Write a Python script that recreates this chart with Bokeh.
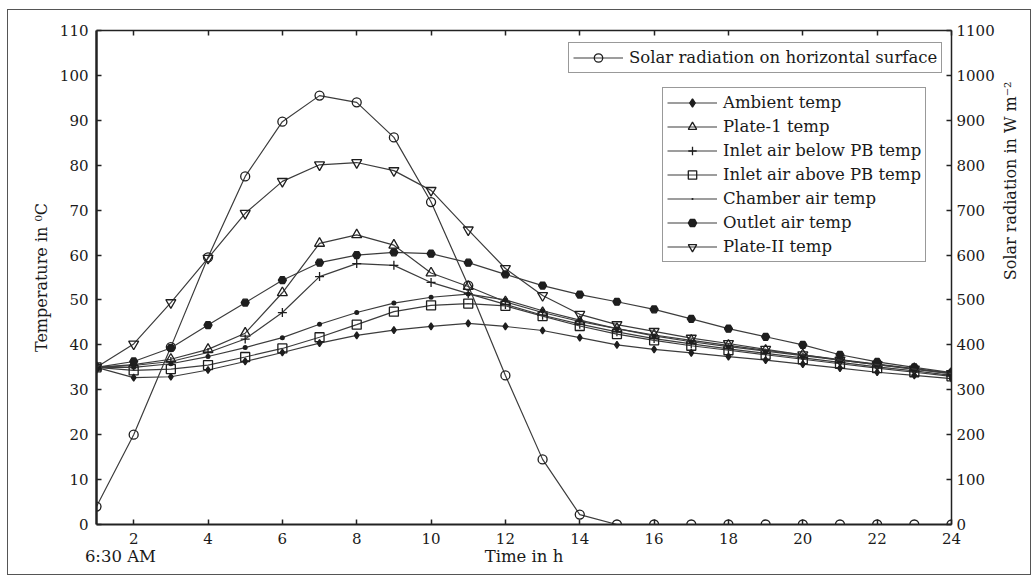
import math
from bokeh.plotting import figure
from bokeh.models import Range1d, LinearAxis, FixedTicker, Legend, LegendItem
from bokeh.embed import file_html
from bokeh.resources import INLINE

# ---------------- data ----------------
hours = list(range(1, 25))
x_ticks = list(range(2, 25, 2))
temp_ticks = list(range(0, 111, 10))
rad_ticks = list(range(0, 1101, 100))

solar = [40, 200, 395, 595, 775, 897, 955, 940, 862, 718, 532, 332, 145, 22,
         0, 0, 0, 0, 0, 0, 0, 0, 0, 0]
ambient = [35, 32.7, 32.9, 34.4, 36.3, 38.3, 40.4, 42.1, 43.3, 44.1, 44.8, 44.1,
           43.2, 41.6, 40.0, 39.0, 38.2, 37.4, 36.6, 35.7, 34.8, 33.9, 33.2, 32.5]
plate1 = [35, 35.6, 36.8, 39.0, 42.6, 51.6, 62.6, 64.5, 62.2, 56.0, 53.0, 49.6,
          47.2, 45.2, 43.6, 42.2, 41.0, 39.9, 38.8, 37.8, 36.7, 35.7, 34.7, 33.7]
inlet_below = [35, 35.4, 36.3, 38.3, 41.3, 47.2, 55.2, 58.1, 57.7, 53.9, 51.4, 49.0,
               46.6, 44.6, 42.9, 41.4, 40.2, 39.1, 38.1, 37.1, 36.1, 35.1, 34.2, 33.2]
inlet_above = [35, 34.3, 34.6, 35.5, 37.3, 39.2, 41.7, 44.5, 47.4, 48.8, 49.2, 48.7,
               46.4, 44.2, 42.4, 41.0, 39.8, 38.8, 37.8, 36.8, 35.8, 34.8, 33.9, 33.0]
chamber = [35, 35.0, 35.8, 37.4, 39.4, 41.6, 44.6, 47.2, 49.3, 50.6, 51.3, 50.0,
           47.6, 45.5, 43.6, 42.0, 40.7, 39.6, 38.6, 37.6, 36.6, 35.6, 34.6, 33.6]
outlet = [35, 36.3, 39.3, 44.4, 49.4, 54.4, 58.3, 60.0, 60.6, 60.3, 58.3, 55.7,
          53.2, 51.2, 49.6, 47.9, 45.8, 43.6, 41.8, 40.0, 37.8, 36.2, 35.0, 33.8]
plate2 = [35, 40.2, 49.4, 59.3, 69.3, 76.4, 80.1, 80.6, 78.8, 74.4, 65.6, 57.0,
          51.0, 46.8, 44.5, 43.0, 41.5, 40.3, 39.0, 37.8, 36.6, 35.6, 34.6, 33.6]

series_names = ["Ambient temp", "Plate-1 temp", "Inlet air below PB temp",
                "Inlet air above PB temp", "Chamber air temp", "Outlet air temp",
                "Plate-II temp"]
solar_name = "Solar radiation on horizontal surface"
x_title = "Time in h"
start_note = "6:30 AM"
y_title = "Temperature in \u2070C"
y2_title = "Solar radiation in W m\u207b\u00b2"

# ---------------- figure ----------------
FONT = "DejaVu Serif"
W, H = 1024, 566
BL, BR, BT, BB = 88, 79, 20, 52
X0, X1 = 1, 24
Y0, Y1 = 0, 110

p = figure(width=W, height=H, output_backend="svg", toolbar_location=None,
           x_range=Range1d(X0, X1), y_range=Range1d(Y0, Y1),
           min_border_left=BL, min_border_right=BR, min_border_top=BT,
           min_border_bottom=BB, background_fill_color="white",
           border_fill_color="white")
p.styles = {"border": "1px solid #555555", "margin": "9px 0px 0px 7px"}
p.outline_line_color = None
p.xgrid.visible = False
p.ygrid.visible = False
p.extra_y_ranges = {"rad": Range1d(0, 1100)}

AX = "#222222"
TXT = "#1a1a1a"

def style_axis(ax, ticks, lw, show_labels=True, standoff=6):
    ax.ticker = FixedTicker(ticks=ticks)
    ax.axis_line_color = AX
    ax.axis_line_width = lw
    ax.major_tick_line_color = AX
    ax.major_tick_line_width = 1.5
    ax.major_tick_in = 5
    ax.major_tick_out = 0
    ax.minor_tick_line_color = None
    ax.major_label_text_font = FONT
    ax.major_label_text_font_size = "15px" if show_labels else "0px"
    ax.major_label_text_color = TXT if show_labels else None
    ax.major_label_standoff = standoff

def text_axis(ax, ticks, labels, standoff, size="16px"):
    ax.ticker = FixedTicker(ticks=ticks)
    ax.major_label_overrides = dict(zip(ticks, labels))
    ax.axis_line_color = None
    ax.major_tick_line_color = None
    ax.major_tick_in = 0
    ax.major_tick_out = 0
    ax.minor_tick_line_color = None
    ax.major_label_text_font = FONT
    ax.major_label_text_font_size = size
    ax.major_label_text_color = TXT
    ax.major_label_standoff = standoff

# left
la = p.yaxis[0]
style_axis(la, temp_ticks, 2.5, standoff=8)
la.axis_label = y_title
la.axis_label_text_font = FONT
la.axis_label_text_font_size = "16px"
la.axis_label_text_font_style = "normal"
la.axis_label_text_color = TXT
la.axis_label_standoff = 6

# bottom
ba = p.xaxis[0]
style_axis(ba, x_ticks, 2, standoff=8)

# second bottom row: "6:30 AM" and "Time in h"
ba2 = LinearAxis()
text_axis(ba2, [X0 + (120 - 96) / 37.26, (X0 + X1) / 2], [start_note, x_title],
          standoff=0, size="16.5px")
p.add_layout(ba2, "below")

# right
ra = LinearAxis(y_range_name="rad")
style_axis(ra, rad_ticks, 1.5, standoff=5)
p.add_layout(ra, "right")

# right title as a rotated label
ra2 = LinearAxis()
text_axis(ra2, [54.4], [y2_title], standoff=13, size="16px")
ra2.major_label_orientation = math.pi / 2
p.add_layout(ra2, "right")

# top
ta = LinearAxis()
style_axis(ta, x_ticks, 1.5, show_labels=False)
p.add_layout(ta, "above")

LC = "#3c3c3c"
MC = "#1e1e1e"
LW = 1.2

def series(y, marker, size, fill, yname="default"):
    kw = {} if yname == "default" else {"y_range_name": yname}
    lr = p.line(hours, y, line_color=LC, line_width=LW, **kw)
    sr = p.scatter(hours, y, marker=marker, size=size, line_color=MC,
                   line_width=1.3, fill_color=fill, **kw)
    return [lr, sr]

r_solar = series(solar, "circle", 9, None, "rad")
r_amb = series(ambient, "diamond", 7, MC)
r_p1 = series(plate1, "triangle", 10, None)
r_inb = series(inlet_below, "cross", 9, None)
r_ina = series(inlet_above, "square", 9, None)
r_ch = series(chamber, "dot", 20, MC)
r_out = series(outlet, "hex", 8, MC)
r_p2 = series(plate2, "inverted_triangle", 10, None)

def legend_style(lg):
    lg.label_text_font = FONT
    lg.label_text_font_size = "16.5px"
    lg.label_text_color = TXT
    lg.border_line_color = "#333333"
    lg.border_line_width = 1.5
    lg.background_fill_color = "white"
    lg.background_fill_alpha = 1.0
    lg.glyph_width = 50
    lg.label_standoff = 6
    lg.padding = 4
    lg.margin = 0
    lg.label_height = 21
    lg.glyph_height = 21

leg1 = Legend(items=[LegendItem(label=solar_name, renderers=r_solar)],
              location=(472, 451))
legend_style(leg1)
p.add_layout(leg1)

items2 = [LegendItem(label=n, renderers=r) for n, r in
          zip(series_names, [r_amb, r_p1, r_inb, r_ina, r_ch, r_out, r_p2])]
leg2 = Legend(items=items2, location=(566, 262), spacing=3)
legend_style(leg2)
p.add_layout(leg2)

open("out.html", "w").write(file_html(p, INLINE))
